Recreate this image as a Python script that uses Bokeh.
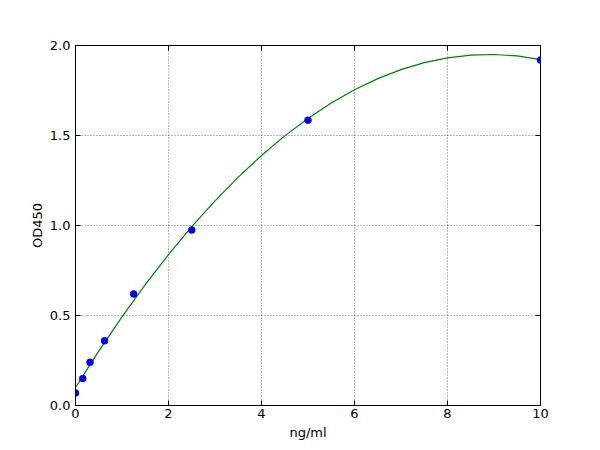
from bokeh.plotting import figure
from bokeh.models import FixedTicker, Range1d, PrintfTickFormatter, LinearAxis
from bokeh.embed import file_html
from bokeh.resources import INLINE

# Standard points
conc = [0.0, 0.156, 0.3125, 0.625, 1.25, 2.5, 5.0, 10.0]
od = [0.07, 0.15, 0.24, 0.36, 0.62, 0.975, 1.585, 1.92]

# Fitted curve
fit_x = [0.0, 0.5, 1.0, 1.5, 2.0, 2.5, 3.0, 3.5, 4.0, 4.5, 5.0, 5.5, 6.0,
         6.5, 7.0, 7.5, 8.0, 8.5, 9.0, 9.5, 10.0]
fit_y = [0.100, 0.302, 0.492, 0.671, 0.838, 0.994, 1.137, 1.269, 1.389, 1.498,
         1.595, 1.680, 1.754, 1.816, 1.866, 1.905, 1.931, 1.946, 1.950, 1.942, 1.922]

x_ticks = [0, 2, 4, 6, 8, 10]
y_ticks = [0.0, 0.5, 1.0, 1.5, 2.0]

FONT = "DejaVu Sans"

p = figure(frame_width=465, frame_height=360, output_backend="svg",
           toolbar_location=None, x_range=Range1d(0, 10), y_range=Range1d(0, 2.0),
           min_border_left=75, min_border_top=45, min_border_right=60,
           min_border_bottom=30, background_fill_color="white",
           border_fill_color="white")

bottom_ax = p.below[0]
left_ax = p.left[0]

p.line(fit_x, fit_y, line_color="#008000", line_width=1.2)
p.scatter(conc, od, size=7, fill_color="#0000ff", line_color="#000080", line_width=0.5)

p.outline_line_color = "black"
p.outline_line_width = 1
p.outline_line_alpha = 1

top_ax = LinearAxis(ticker=FixedTicker(ticks=x_ticks))
right_ax = LinearAxis(ticker=FixedTicker(ticks=y_ticks))
p.add_layout(top_ax, "above")
p.add_layout(right_ax, "right")
for ax in (top_ax, right_ax):
    ax.axis_line_color = None
    ax.major_tick_in = 5
    ax.major_tick_out = 0
    ax.minor_tick_line_color = None
    ax.major_tick_line_color = "black"
    ax.major_label_text_font_size = "0px"
    ax.major_label_text_alpha = 0
    ax.major_label_standoff = 0

for ax in (bottom_ax, left_ax):
    ax.axis_line_color = None
    ax.major_tick_in = 5
    ax.major_tick_out = 0
    ax.minor_tick_line_color = None
    ax.major_tick_line_color = "black"
    ax.major_label_text_font = FONT
    ax.major_label_text_font_size = "13px"
    ax.major_label_text_color = "black"
    ax.axis_label_text_font = FONT
    ax.axis_label_text_font_size = "13px"
    ax.axis_label_text_font_style = "normal"
    ax.axis_label_text_color = "black"

bottom_ax.ticker = FixedTicker(ticks=x_ticks)
left_ax.ticker = FixedTicker(ticks=y_ticks)
left_ax.formatter = PrintfTickFormatter(format="%.1f")
bottom_ax.axis_label = "ng/ml"
left_ax.axis_label = "OD450"
bottom_ax.major_label_standoff = 3
bottom_ax.axis_label_standoff = 4
left_ax.major_label_standoff = 5
left_ax.axis_label_standoff = 2

p.xgrid.ticker = FixedTicker(ticks=x_ticks)
p.ygrid.ticker = FixedTicker(ticks=y_ticks)
for g in (p.xgrid[0], p.ygrid[0]):
    g.grid_line_color = "black"
    g.grid_line_alpha = 0.8
    g.grid_line_width = 0.7
    g.grid_line_dash = "1 2"

open("out.html", "w").write(file_html(p, INLINE))
